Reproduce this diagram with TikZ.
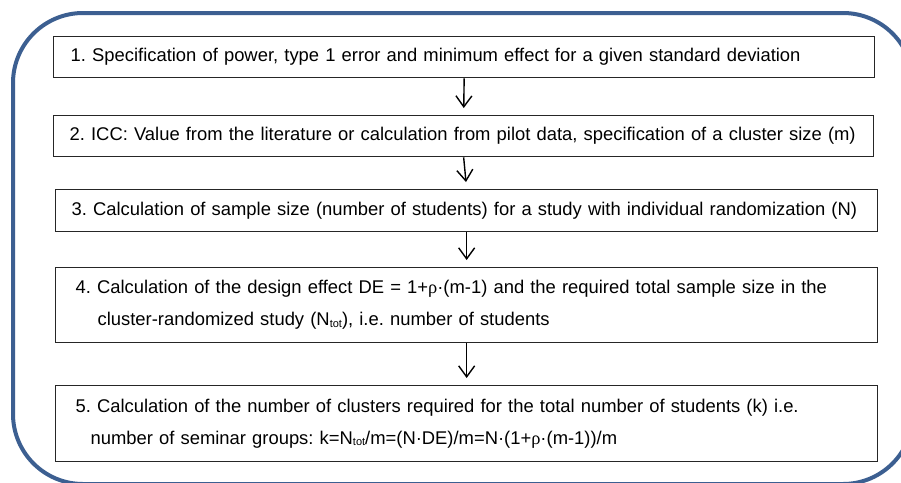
\documentclass[tikz,border=0pt]{standalone}
\usepackage{fontspec}
\setmainfont{Liberation Sans}
\newfontfamily\rhofont{Liberation Serif}
\usetikzlibrary{arrows.meta}
\definecolor{outerblue}{RGB}{60,95,145}
\newcommand{\rhochar}{{\rhofont ρ}}
\newcommand{\Ntot}{N\raisebox{-1.5pt}{\fontsize{11}{11}\selectfont tot}}
\tikzset{
  stepbox/.style={draw=black!85, line width=1.3pt, rectangle, anchor=north west,
    align=left, inner ysep=0pt, font=\fontsize{18.4}{32}\selectfont\frenchspacing},
  flowarrow/.style={draw=black, line width=1.4pt, shorten >=7pt,
    -{Straight Barb[length=11pt,width=16pt,line width=1.4pt]}}
}
\begin{document}
\begin{tikzpicture}[x=1pt,y=-1pt]
\useasboundingbox (0,0) rectangle (901,482);
\clip (0,0) rectangle (901,482);
\fill[white] (0,0) rectangle (901,482);
\draw[outerblue, line width=4pt, rounded corners=70pt] (13,13) rectangle (913,484);

\node[stepbox, inner xsep=17pt, text width=787pt, minimum height=41pt] (b1) at (53,36)
  {\mbox{1. Specification of power, type 1 error and minimum effect for a given standard deviation}};
\node[stepbox, inner xsep=16pt, text width=788pt, minimum height=41pt] (b2) at (53,115)
  {\mbox{2. ICC: Value from the literature or calculation from pilot data, specification of a cluster size (m)}};
\node[stepbox, inner xsep=16pt, text width=790pt, minimum height=42pt] (b3) at (55,189)
  {\mbox{3. Calculation of sample size (number of students) for a study with individual randomization (N)}};
\node[stepbox, inner xsep=20pt, text width=782pt, minimum height=75pt] (b4) at (55,267)
  {\mbox{4. Calculation of the design effect DE = 1+\rhochar·(m-1) and the required total sample size in the}\\
   \mbox{\hspace*{22pt}cluster-randomized study (\Ntot), i.e. number of students}};
\node[stepbox, inner xsep=20pt, text width=782pt, minimum height=76pt] (b5) at (55,385)
  {\mbox{5. Calculation of the number of clusters required for the total number of students (k) i.e.}\\
   \mbox{\hspace*{15pt}number of seminar groups: k=\Ntot/m=(N·DE)/m=N·(1+\rhochar·(m-1))/m}};

\draw[flowarrow] (b1.south) -- (b2.north);
\draw[flowarrow] (b2.south) -- (b3.north);
\draw[flowarrow] (b3.south) -- (b4.north);
\draw[flowarrow] (b4.south) -- (b5.north);
\end{tikzpicture}
\end{document}
